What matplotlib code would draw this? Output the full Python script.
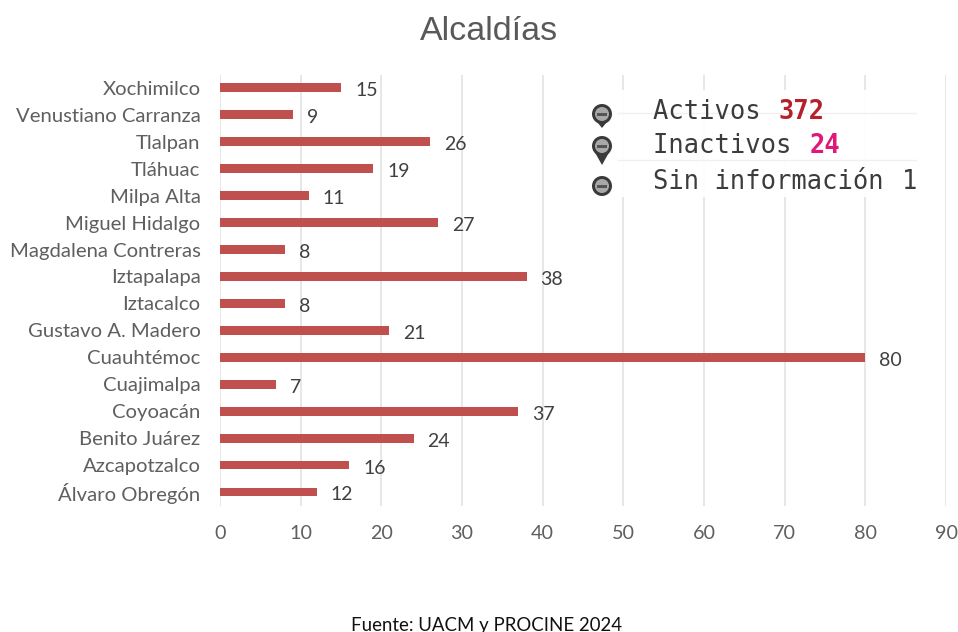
import matplotlib
matplotlib.use('Agg')
import matplotlib.pyplot as plt
from matplotlib.patches import Rectangle, Circle, Polygon

W, H = 958, 632

alcaldias = ['Álvaro Obregón', 'Azcapotzalco', 'Benito Juárez', 'Coyoacán', 'Cuajimalpa',
             'Cuauhtémoc', 'Gustavo A. Madero', 'Iztacalco', 'Iztapalapa', 'Magdalena Contreras',
             'Miguel Hidalgo', 'Milpa Alta', 'Tláhuac', 'Tlalpan', 'Venustiano Carranza', 'Xochimilco']
valores = [12, 16, 24, 37, 7, 80, 21, 8, 38, 8, 27, 11, 19, 26, 9, 15]
x_ticks = [0, 10, 20, 30, 40, 50, 60, 70, 80, 90]

# legend text: label, number, colour of the number
leyenda = [('Activos ', '372', '#b5202a'),
           ('Inactivos ', '24', '#e0187a'),
           ('Sin información ', '1', '#3c3c3c')]

plt.rcParams['font.family'] = ['Lato', 'DejaVu Sans']

fig = plt.figure(figsize=(W / 100, H / 100), dpi=100)
ax = fig.add_axes([220 / W, 1 - 506 / H, (946 - 220) / W, (506 - 75) / H])

ax.barh(range(len(valores)), valores, height=0.33, color='#c0504d', zorder=3)
for i, v in enumerate(valores):
    ax.annotate(str(v), (v, i), xytext=(14, -3), textcoords='offset pixels',
                va='center', ha='left', fontsize=14, color='#404040')

ax.set_xlim(0, 90)
ax.set_ylim(-0.52, 15.48)
ax.set_xticks(x_ticks)
ax.set_yticks(range(len(alcaldias)))
ax.set_yticklabels(alcaldias)
ax.tick_params(axis='both', length=0, labelcolor='#5f5f5f')
ax.tick_params(axis='y', pad=14, labelsize=14.6)
ax.tick_params(axis='x', pad=14, labelsize=14.2)
ax.grid(axis='x', color='#e0e0e0', lw=1.1, zorder=0)
for s in ax.spines.values():
    s.set_visible(False)

fig.text(489 / W, 1 - 31 / H, 'Alcaldías', ha='center', va='center', fontsize=24.5,
         color='#595959', family=['Liberation Sans', 'DejaVu Sans'])
fig.text(487 / W, 1 - 626 / H, 'Fuente: UACM y PROCINE 2024', ha='center', va='center',
         fontsize=13.4, color='#111111')

# pasted legend panel, in pixel coordinates
ov = fig.add_axes([0, 0, 1, 1], zorder=5)
ov.set_xlim(0, W)
ov.set_ylim(H, 0)
ov.axis('off')
ov.add_patch(Rectangle((590, 90), 332, 107, fc='white', ec='none', alpha=0.95))
ov.plot([618, 916], [113, 113], color='#f0f0f0', lw=1)
ov.plot([618, 916], [160, 160], color='#f0f0f0', lw=1)

for cy, tip in [(114, 128), (146, 165), (186, 196)]:
    ov.add_patch(Polygon([(593, cy + 3), (611, cy + 3), (602, tip)], fc='#3a3a3a', ec='none'))
    ov.add_patch(Circle((602, cy), 10, fc='#3a3a3a', ec='none'))
    ov.add_patch(Circle((602, cy), 7, fc='#a8a8a8', ec='none'))
    ov.add_patch(Rectangle((597, cy - 1.5), 10, 3, fc='#555555', ec='none'))

for (txt, num, col), y in zip(leyenda, [112, 146, 182]):
    t = ov.text(653, y, txt, fontsize=18.4, va='center', ha='left', color='#3c3c3c',
                family=['DejaVu Sans Mono'])
    fig.canvas.draw()
    bb = t.get_window_extent()
    ov.text(653 + bb.width + 3, y, num, fontsize=18.4, va='center', ha='left', color=col,
            family=['DejaVu Sans Mono'], fontweight='bold' if num != '1' else 'normal')

fig.savefig('out.png', dpi=100)
